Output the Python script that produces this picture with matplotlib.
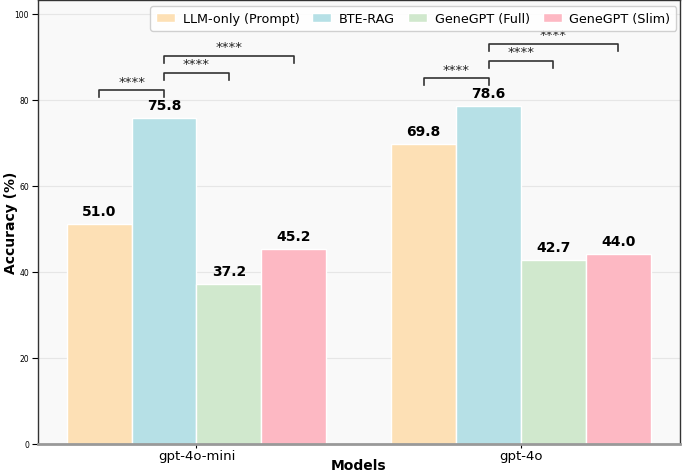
import matplotlib
matplotlib.use("Agg")
import matplotlib.pyplot as plt
import numpy as np

models = ["gpt-4o-mini", "gpt-4o"]
methods = ["LLM-only (Prompt)", "BTE-RAG", "GeneGPT (Full)", "GeneGPT (Slim)"]
llm_only = [51.0, 69.8]
bte_rag = [75.8, 78.6]
genegpt_full = [37.2, 42.7]
genegpt_slim = [45.2, 44.0]
series = [llm_only, bte_rag, genegpt_full, genegpt_slim]
colors = ["#FDE0B5", "#B6E0E6", "#D0E8CD", "#FDB8C3"]
# significance comparisons: (model index, method a, method b, label)
comparisons = [(0, 0, 1, "****"), (0, 1, 2, "****"), (0, 1, 3, "****"),
               (1, 0, 1, "****"), (1, 1, 2, "****"), (1, 1, 3, "****")]

fig = plt.figure(figsize=(6.82, 4.77), dpi=100)
ax = fig.add_axes([0.055, 0.068, 0.942, 0.93])
ax.set_facecolor("#F9F9F9")

x = np.arange(len(models))
w = 0.2
offsets = [-1.5, -0.5, 0.5, 1.5]
for s, vals, c, off in zip(methods, series, colors, offsets):
    bars = ax.bar(x + off * w, vals, w, color=c, edgecolor="white", linewidth=1, label=s, zorder=2)
    for b, v in zip(bars, vals):
        ax.text(b.get_x() + b.get_width() / 2, v + 1.4, f"{v:.1f}", ha="center", va="bottom",
                fontsize=10, fontweight="bold", zorder=3)

# brackets
level = {0: 0, 1: 0}
for m, a, b, lab in comparisons:
    xa = x[m] + offsets[a] * w
    xb = x[m] + offsets[b] * w
    top = max(series[1][m], series[0][m])
    y = top + 6.4 + level[m] * 4.0
    level[m] += 1
    ax.plot([xa, xa, xb, xb], [y - 1.6, y, y, y - 1.6], color="#333333", lw=1.2, zorder=3)
    ax.text((xa + xb) / 2, y + 0.6, lab, ha="center", va="bottom", fontsize=9.5, color="#222222")

ax.set_ylim(0, 103.2)
ax.set_xlim(-0.49, 1.49)
ax.set_xticks(x)
ax.set_xticklabels(models, fontsize=9.5)
ax.set_yticks([0, 20, 40, 60, 80, 100])
ax.tick_params(axis="y", labelsize=5.5, pad=2, length=4)
ax.tick_params(axis="x", pad=1, length=3)
ax.set_xlabel("Models", fontsize=10, fontweight="bold")
ax.set_ylabel("Accuracy (%)", fontsize=10, fontweight="bold")
ax.yaxis.set_label_coords(-0.031, 0.5)
ax.xaxis.set_label_coords(0.5, -0.033)
ax.yaxis.grid(True, color="#E6E6E6", lw=0.8, zorder=0)
ax.set_axisbelow(True)
for sp in ["left", "right", "top"]:
    ax.spines[sp].set_color("#333333")
    ax.spines[sp].set_linewidth(1.0)
ax.spines["bottom"].set_color("#999999")
ax.spines["bottom"].set_linewidth(2.0)

leg = ax.legend(loc="upper right", ncol=4, fontsize=9.2, frameon=True, handlelength=1.5,
                columnspacing=1.0, handletextpad=0.6, borderpad=0.45, framealpha=0.9,
                borderaxespad=0, bbox_to_anchor=(0.994, 0.986))
leg.set_zorder(5)

fig.savefig("out.png", dpi=100)
